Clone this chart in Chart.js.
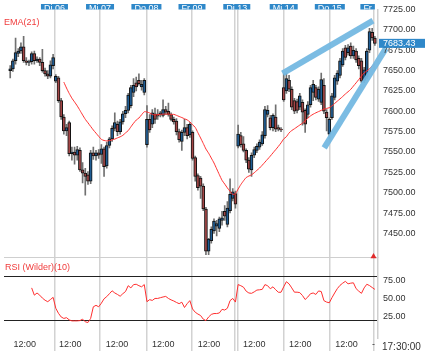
<!DOCTYPE html>
<html>
<head>
<meta charset="utf-8">
<script src="https://cdn.jsdelivr.net/npm/chart.js@4"></script>
<style>
  html, body { margin: 0; padding: 0; background: #fff; }
  #wrap { position: relative; width: 425px; height: 351px; overflow: hidden; }
  .lbl { position: absolute; font: 9px "Liberation Sans", Arial, sans-serif; white-space: nowrap; }
</style>
</head>
<body>
<div id="wrap">
  <canvas id="kurs" width="425" height="351"></canvas>
  <div class="lbl" style="left:4px; top:17px; color:#f03c3c;">EMA(21)</div>
  <div class="lbl" style="left:5px; top:262px; color:#f03c3c;">RSI (Wilder)(10)</div>
  <div class="lbl" style="left:382px; top:341px; color:#333; font-size:10px;">17:30:00</div>
</div>
<script>
// 30-Minuten-Kerzen, 17 pro Handelstag (09:00 - 17:30)
const open = [7650,7652,7662,7671,7674,7679,7662,7660,7661,7671,7662,7664,7660,7650,7646,7643,7656,
  7637,7641,7613,7593,7576,7586,7548,7550,7546,7552,7528,7524,7522,7514,7549,7545,7549,
  7547,7554,7533,7558,7566,7579,7584,7575,7587,7597,7601,7607,7623,7635,7638,7630,7623,
  7559,7590,7584,7597,7596,7596,7595,7602,7600,7596,7590,7588,7575,7563,7574,7580,7571,
  7574,7543,7521,7518,7508,7480,7428,7441,7453,7459,7456,7466,7477,7461,7478,7493,7499,
  7557,7570,7560,7552,7540,7528,7546,7552,7556,7560,7570,7596,7592,7580,7593,7580,7578,
  7629,7625,7638,7627,7613,7612,7605,7611,7601,7596,7608,7623,7629,7615,7611,7632,7599,
  7572,7592,7617,7637,7644,7657,7678,7672,7680,7668,7674,7665,7662,7638,7642,7675,7697,
  7690];
const high = [7656,7664,7690,7677,7684,7692,7666,7663,7673,7674,7667,7666,7676,7653,7650,7662,7670,
  7645,7643,7616,7596,7584,7588,7556,7556,7557,7555,7537,7530,7526,7552,7556,7552,7553,
  7559,7556,7562,7568,7582,7598,7588,7590,7600,7606,7622,7632,7640,7642,7646,7638,7640,
  7607,7596,7602,7604,7602,7600,7614,7606,7610,7598,7593,7591,7578,7577,7590,7584,7586,
  7576,7545,7523,7520,7511,7482,7444,7458,7468,7466,7470,7477,7484,7489,7517,7505,7502,
  7583,7574,7569,7554,7543,7549,7556,7560,7565,7575,7606,7607,7595,7597,7608,7583,7580,
  7647,7647,7644,7630,7616,7615,7622,7614,7603,7612,7632,7638,7632,7630,7647,7640,7602,
  7592,7622,7644,7650,7665,7677,7681,7682,7684,7680,7677,7668,7665,7654,7677,7702,7702,
  7692];
const low = [7641,7649,7658,7667,7671,7660,7657,7656,7658,7658,7660,7656,7648,7643,7640,7641,7652,
  7635,7611,7590,7572,7570,7545,7540,7535,7540,7526,7512,7497,7510,7511,7541,7540,7542,
  7536,7520,7530,7555,7563,7576,7570,7572,7584,7592,7598,7604,7618,7625,7632,7626,7620,
  7556,7574,7580,7585,7590,7593,7593,7596,7594,7588,7584,7571,7562,7552,7570,7566,7568,
  7540,7514,7503,7493,7478,7424,7424,7438,7450,7447,7452,7460,7466,7458,7475,7490,7481,
  7555,7556,7550,7537,7525,7520,7543,7549,7553,7558,7567,7593,7577,7576,7575,7576,7575,
  7612,7622,7624,7602,7597,7598,7602,7583,7574,7592,7605,7613,7614,7612,7608,7597,7576,
  7566,7590,7614,7633,7641,7655,7663,7669,7665,7665,7660,7652,7635,7635,7640,7672,7687,
  7681];
const close = [7652,7662,7672,7674,7679,7662,7660,7661,7671,7662,7664,7660,7650,7646,7643,7657,7666,
  7643,7613,7593,7576,7580,7548,7550,7546,7553,7528,7524,7520,7514,7549,7545,7549,7546,
  7554,7532,7558,7566,7579,7586,7575,7587,7597,7601,7620,7629,7632,7630,7634,7633,7638,
  7590,7577,7598,7590,7594,7598,7602,7599,7596,7590,7587,7575,7565,7574,7580,7570,7584,
  7542,7520,7506,7508,7480,7428,7443,7455,7465,7462,7468,7469,7471,7481,7498,7501,7486,
  7572,7559,7552,7540,7529,7546,7553,7557,7562,7571,7602,7601,7580,7595,7578,7578,7577,
  7614,7640,7627,7605,7600,7601,7619,7599,7584,7608,7629,7633,7617,7627,7639,7600,7592,
  7590,7619,7641,7647,7662,7674,7666,7678,7668,7675,7663,7656,7637,7651,7674,7698,7690,
  7683.43];

const emaStart = 20;
const ema21 = [7635.8,7628.5,7621.9,7616.1,7611.4,7606.6,7601.1,7595.5,7590.1,7585.8,
  7581.4,7577.0,7573.1,7569.2,7565.5,7564.1,7563.6,7563.9,7564.8,7565.8,
  7567.3,7568.6,7570.4,7573.4,7576.2,7580.8,7585.3,7589.2,7591.7,7595.7,
  7599.4,7599.1,7597.9,7596.2,7595.5,7595.9,7596.2,7596.5,7596.5,7596.4,
  7596.2,7596.2,7595.0,7593.6,7592.3,7590.8,7589.4,7587.0,7583.5,7580.2,
  7573.7,7567.2,7560.5,7553.6,7548.5,7542.5,7536.5,7529.3,7522.1,7515.2,
  7510.6,7505.8,7501.6,7497.8,7498.8,7504.4,7509.9,7514.5,7518.6,7520.4,
  7521.9,7524.5,7527.4,7530.3,7533.8,7537.5,7541.2,7544.9,7548.9,7552.8,
  7556.8,7561.1,7566.0,7568.7,7573.4,7576.3,7578.5,7580.8,7583.1,7585.4,
  7588.3,7591.4,7594.3,7596.4,7598.1,7599.6,7601.1,7602.6,7603.5,7604.4,
  7606.6,7609.6,7612.4,7615.2,7618.1,7621.2,7624.0,7626.9,7630.9,7634.9,
  7639.0,7643.2,7647.1,7649.5,7652.1,7655.8,7658.3];

const rsiStart = 8;
const rsi10 = [65,55,58,55,51,48,46,49,52,37,
  30,25,23,24,21,19.6,19.6,19.6,20,22,
  18.3,17.4,23,39,41,39,44,50,53,57,
  61,58,56,53.5,57,60,68,65,69.5,70,
  68,66.5,69.6,46,48.8,47.8,50.5,50.5,51.5,52.5,
  53.3,50.5,48.5,47,45,43.3,45.3,38,43.3,47.5,
  36,31.5,29,27,22,20,25,28.5,29.7,29.7,
  30.5,35.5,34.5,37,47.5,50.5,45.5,69.6,68,66,
  60.5,58,57.5,59.5,62,62.4,63,69.5,68,63.8,
  66.5,62.5,59,59,66.5,73.5,70.5,65,59.1,59.1,
  58.5,54.5,49,52.5,57,58,56,60.8,60,47.5,
  45.5,44.5,51.5,58,64,68.5,71.5,74,70.6,71.5,
  72,64,60.5,57.5,65,70,68.2,65.5,63];

// Achsen
const dayLines = [16.5, 33.5, 50.8, 67.8, 83.9, 84.8, 102.0, 119.2, 135.5];
const dayLabelPos = [16.5, 33.5, 50.8, 67.8, 84.5, 102.0, 119.2, 133.3];
const dayLabels = ['Di 06', 'Mi 07', 'Do 08', 'Fr 09', 'Di 13', 'Mi 14', 'Do 15', 'Fr'];
const noonPos = [5.4, 22.4, 39.8, 57.1, 74.1, 91.0, 108.2, 125.4];
const priceTicks = [7450, 7475, 7500, 7525, 7550, 7575, 7600, 7625, 7650, 7675, 7700, 7725];
const lastPrice = 7683.43;
const rsiLabels = [25, 50, 75];
const rsiBands = [20, 80];

// Trendlinien (Index, Kurs)
const trendUpper = [[101.6, 7646.6], [135.3, 7711.3]];
const trendLower = [[117.1, 7555.0], [140.1, 7677.2]];
const lastBarMark = [[135.5, 7421.5]];

const X_MIN = -2.317, X_MAX = 137.17;
const RSI_TOP = 106.4;
const UP = '#1f5d94', DOWN = '#a34646';

Chart.defaults.font.family = '"Liberation Sans", Arial, sans-serif';
Chart.defaults.font.size = 9;

const idx = close.map((_, i) => i);
const toXY = pts => pts.map(p => ({ x: p[0], y: p[1] }));

new Chart(document.getElementById('kurs'), {
  type: 'bar',
  data: {
    datasets: [
      {
        type: 'line', label: 'Trend oben', data: toXY(trendUpper),
        borderColor: 'rgba(116,184,226,0.95)', borderWidth: 6, borderCapStyle: 'butt',
        pointRadius: 0, clip: false, order: 0, xAxisID: 'x', yAxisID: 'y'
      },
      {
        type: 'line', label: 'Trend unten', data: toXY(trendLower),
        borderColor: 'rgba(116,184,226,0.95)', borderWidth: 6, borderCapStyle: 'butt',
        pointRadius: 0, clip: false, order: 0, xAxisID: 'x', yAxisID: 'y'
      },
      {
        type: 'line', label: 'EMA(21)', data: ema21.map((v, k) => ({ x: emaStart + k, y: v })),
        borderColor: '#ff2e2e', borderWidth: 1, pointRadius: 0, tension: 0.2,
        order: 1, xAxisID: 'x', yAxisID: 'y'
      },
      {
        type: 'scatter', label: 'Marker', data: toXY(lastBarMark),
        pointStyle: 'triangle', pointRadius: 3.5, backgroundColor: '#e02a2a', borderWidth: 0,
        clip: false, order: 1, xAxisID: 'x', yAxisID: 'y'
      },
      {
        label: 'Koerper', data: idx.map(i => ({ x: i, y: [open[i], close[i]] })),
        backgroundColor: idx.map(i => close[i] >= open[i] ? UP : DOWN),
        borderColor: '#111', borderWidth: 1, borderSkipped: false,
        barThickness: 3, grouped: false, order: 2, xAxisID: 'x', yAxisID: 'y'
      },
      {
        label: 'Docht', data: idx.map(i => ({ x: i, y: [low[i], high[i]] })),
        backgroundColor: '#707070', borderWidth: 0,
        barThickness: 1, grouped: false, order: 3, xAxisID: 'x', yAxisID: 'y'
      },
      {
        type: 'line', label: 'RSI (Wilder)(10)', data: rsi10.map((v, k) => ({ x: rsiStart + k, y: v })),
        borderColor: '#ff2e2e', borderWidth: 1, pointRadius: 0, tension: 0,
        order: 1, xAxisID: 'x', yAxisID: 'yR'
      }
    ]
  },
  options: {
    responsive: false,
    animation: false,
    devicePixelRatio: 1,
    layout: { padding: 0 },
    plugins: { legend: { display: false }, tooltip: { enabled: false } },
    scales: {
      x: {
        type: 'linear', position: 'bottom', min: X_MIN, max: X_MAX, offset: false,
        grid: {
          offset: false, lineWidth: 1.5, drawTicks: true, tickLength: 13,
          color: ctx => dayLines.includes(ctx.tick.value) ? '#d2d2d2' : 'rgba(0,0,0,0)',
          tickColor: ctx => dayLines.includes(ctx.tick.value) ? '#d2d2d2' : 'rgba(0,0,0,0)'
        },
        border: { display: false },
        ticks: {
          autoSkip: false, maxRotation: 0, minRotation: 0, padding: -11, color: '#333',
          font: { size: 9, lineHeight: 1 },
          callback: v => noonPos.includes(v) ? '12:00' : (v === dayLines[dayLines.length - 1] ? '-' : '')
        },
        afterBuildTicks: s => { s.ticks = dayLines.concat(noonPos).map(v => ({ value: v })); },
        afterFit: s => { s.height = 13; }
      },
      xTop: {
        type: 'linear', position: 'top', min: X_MIN, max: X_MAX, offset: false,
        grid: { display: false, drawTicks: false },
        border: { display: false },
        ticks: {
          autoSkip: false, maxRotation: 0, minRotation: 0, padding: -3.5, color: '#fff',
          font: { size: 9, lineHeight: 1 },
          showLabelBackdrop: true, backdropColor: '#2f88c9',
          backdropPadding: { left: 3, right: 3, top: 0, bottom: 0 },
          callback: (v, i) => dayLabels[i]
        },
        afterBuildTicks: s => { s.ticks = dayLabelPos.map(v => ({ value: v })); },
        afterFit: s => { s.height = 6.2; }
      },
      y: {
        type: 'linear', position: 'right', stack: 'panes', stackWeight: 250.8,
        min: 7420, max: 7725, bounds: 'data',
        grid: { display: false, drawTicks: false },
        border: { display: true, color: '#cfcfcf', width: 1.5 },
        ticks: {
          autoSkip: false, padding: 5, z: 1,
          font: { size: 9, lineHeight: 1 },
          color: ctx => ctx.tick && ctx.tick.value === lastPrice ? '#fff' : '#333',
          showLabelBackdrop: ctx => !!ctx.tick && ctx.tick.value === lastPrice,
          backdropColor: '#2f88c9',
          backdropPadding: { left: 4, right: 12, top: 0, bottom: 0 },
          callback: v => v.toFixed(2)
        },
        afterBuildTicks: s => { s.ticks = priceTicks.concat([lastPrice]).map(v => ({ value: v })); },
        afterFit: s => { s.width = 47; }
      },
      yR: {
        type: 'linear', position: 'right', stack: 'panes', stackWeight: 81,
        min: -3.95, max: RSI_TOP, bounds: 'data',
        grid: {
          drawTicks: false, lineWidth: 1,
          color: ctx => rsiBands.includes(ctx.tick.value) ? '#222' :
            (ctx.tick.value === RSI_TOP ? '#cfcfcf' : 'rgba(0,0,0,0)')
        },
        border: { display: true, color: '#cfcfcf', width: 1.5 },
        ticks: {
          autoSkip: false, padding: 5, color: '#333',
          font: { size: 9, lineHeight: 1 },
          callback: v => rsiLabels.includes(v) ? v.toFixed(2) : ''
        },
        afterBuildTicks: s => { s.ticks = rsiBands.concat(rsiLabels, [RSI_TOP]).map(v => ({ value: v })); },
        afterFit: s => { s.width = 47; }
      }
    }
  }
});
</script>
</body>
</html>
